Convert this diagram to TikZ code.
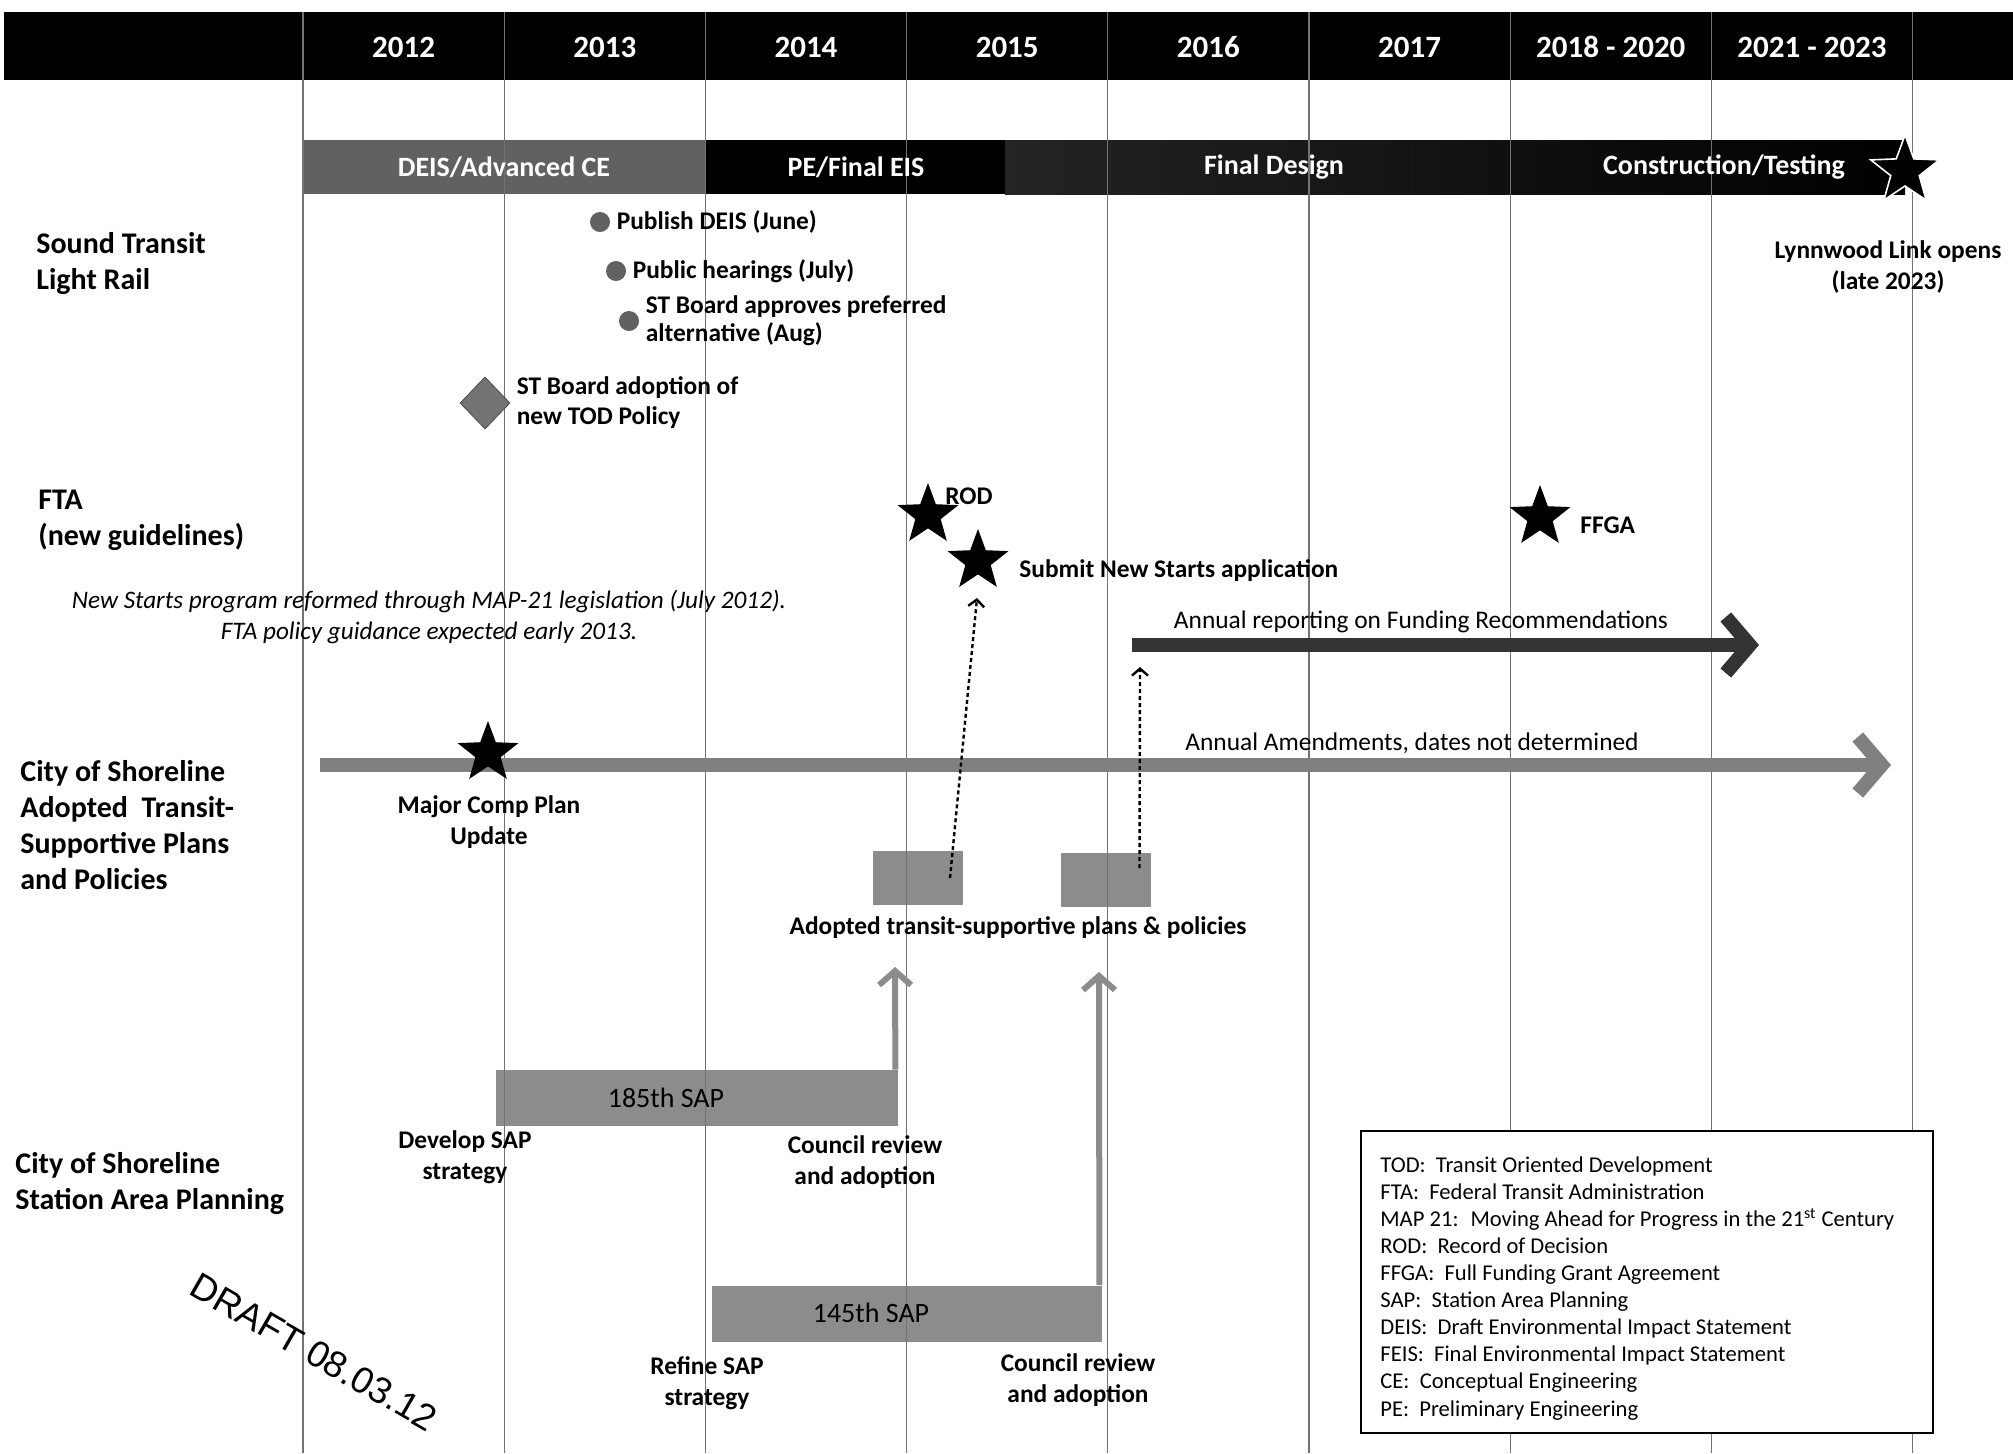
\documentclass[tikz,border=0pt]{standalone}
\usepackage{fontspec}
\setmainfont{Carlito}
\newfontfamily\draftfont{Liberation Sans}
\usetikzlibrary{arrows.meta,shapes.geometric,positioning}

\begin{document}
\begin{tikzpicture}[x=0.5pt,y=-0.5pt,
    year/.style={text=white,font={\bfseries\fontsize{15.5}{18}\selectfont}},
    phase/.style={text=white,font={\bfseries\fontsize{14}{16}\selectfont}},
    rowlabel/.style={anchor=west,align=left,inner sep=0pt,font={\bfseries\fontsize{15}{18}\selectfont}},
    event/.style={anchor=west,align=left,inner sep=1pt,font={\bfseries\fontsize{12.7}{15}\selectfont}},
    note/.style={align=center,inner sep=1pt,font={\bfseries\fontsize{12.7}{15.5}\selectfont}},
    plain/.style={font={\fontsize{12.7}{15}\selectfont}},
    milestone/.style={star,star points=5,star point ratio=2.4,fill=black,inner sep=0pt,minimum size=32pt},
    dot/.style={circle,fill=black!62,inner sep=0pt,minimum size=10pt},
    gridline/.style={black!55,line width=0.6pt},
    sapbar/.style={fill=black!45,inner sep=0pt,minimum height=28pt},
    saptext/.style={font={\fontsize{14}{16}\selectfont}},
    policybox/.style={fill=black!45,inner sep=0pt,minimum width=45pt,minimum height=27pt},
    feed/.style={black!45,line width=3pt,-{Straight Barb[length=7pt,width=16pt]}},
    link/.style={line width=1.2pt,dash pattern=on 2pt off 1.5pt,-{Straight Barb[length=3.5pt,width=8pt]}},
    trend/.style={line width=7pt,-{Straight Barb[length=12pt,width=28pt]}}
  ]

  \useasboundingbox (0,0) rectangle (2013,1453);
  \fill[white] (0,0) rectangle (2013,1453);

  % header band and phases
  \fill[black] (4,12) rectangle (2013,80);
  \fill[black!62] (303,140) rectangle (705,194);
  \fill[black] (705,140) rectangle (1005,194);
  \shade[left color=black!86,right color=black] (1005,140) rectangle (1905,194);

  \node[sapbar,minimum width=201pt] (bar185) at (697,1098) {};
  \node[sapbar,minimum width=195pt] (bar145) at (907,1313.5) {};
  \node[policybox] (adopt1) at (918,878) {};
  \node[policybox] (adopt2) at (1105.5,880) {};

  \foreach \i in {0,...,8}
    \draw[gridline] (303+201.2*\i,12) -- (303+201.2*\i,1453);

  \foreach \yr [count=\i from 0] in {2012,2013,2014,2015,2016,2017,2018 - 2020,2021 - 2023}
    \node[year] (yr\i) at (403.6+201.2*\i,47) {\yr};

  \node[phase] (deis) at (504,167) {DEIS/Advanced CE};
  \node[phase] (pe) at (856,167) {PE/Final EIS};
  \node[phase] (fd) at (1274,167) {Final Design};
  \node[phase] (constr) at (1724,167) {Construction/Testing};

  \node[milestone,draw=white,line width=0.8pt,minimum size=36pt] (lynn) at (1905,171) {};
  \node[note] (lynnlbl) at (1888,267) {Lynnwood Link opens\\(late 2023)};

  % row titles
  \node[rowlabel] (st) at (36,264) {Sound Transit\\Light Rail};
  \node[rowlabel] (fta) at (38,520) {FTA\\(new guidelines)};
  \node[rowlabel] (cityplans) at (20,825) {City of Shoreline\\Adopted~ Transit-\\Supportive Plans\\and Policies};
  \node[rowlabel] (citysap) at (15,1183) {City of Shoreline\\Station Area Planning};

  % sound transit
  \node[dot] (d1) at (600,222) {};
  \node[event] (d1lbl) [right=2pt of d1] {Publish DEIS (June)};
  \node[dot] (d2) at (616,271) {};
  \node[event] (d2lbl) [right=2pt of d2] {Public hearings (July)};
  \node[dot] (d3) at (629,321) {};
  \node[event,font={\bfseries\fontsize{12.7}{14}\selectfont}] (d3lbl) [right=2pt of d3] {ST Board approves preferred\\alternative (Aug)};
  \node[diamond,fill=black!55,draw=black!70,inner sep=0pt,minimum width=25pt,minimum height=26pt] (tod) at (485,403) {};
  \node[event] (todlbl) [right=2pt of tod] {ST Board adoption of\\new TOD Policy};

  % fta
  \node[milestone] (rod) at (928,515) {};
  \node[event] (rodlbl) at (943,496) {ROD};
  \node[milestone] (nsa) at (978,561) {};
  \node[event] (nsalbl) at (1017,571) {Submit New Starts application};
  \node[milestone] (ffga) at (1540,517) {};
  \node[event] (ffgalbl) at (1578,525) {FFGA};
  \node[align=center,font={\itshape\fontsize{12.6}{15.5}\selectfont}] (map21) at (429,617) {New Starts program reformed through MAP-21 legislation (July 2012).\\FTA policy guidance expected early 2013.};

  \coordinate (rep0) at (1132,645);
  \coordinate (rep1) at (1759,645);
  \draw[trend,black!80] (rep0) -- (rep1);
  \node[plain] (replbl) at (1421,622) {Annual reporting on Funding Recommendations};

  % city plans
  \coordinate (amd0) at (320,765);
  \coordinate (amd1) at (1891,765);
  \draw[trend,black!50] (amd0) -- (amd1);
  \node[plain] (amdlbl) at (1412,743) {Annual Amendments, dates not determined};

  \node[milestone] (comp) at (488,753) {};
  \node[note] (complbl) at (489,822) {Major Comp Plan\\Update};
  \node[note] (adoptlbl) at (1018,928) {Adopted transit-supportive plans \& policies};

  \draw[link] ([xshift=16pt]adopt1.center) -- ([xshift=-0.5pt,yshift=-18.5pt]nsa.center);
  \draw[link] ([xshift=17pt,yshift=6pt]adopt2.center) -- ([xshift=4pt,yshift=-11pt]rep0);

  % station area planning
  \coordinate (feed1) at (895,967);
  \coordinate (feed2) at (1099,972);
  \draw[feed] ([xshift=-1.5pt]bar185.north east) -- (feed1);
  \draw[feed] ([xshift=-1.5pt]bar145.north east) -- (feed2);

  \node[saptext] (lbl185) at (666,1098) {185th SAP};
  \node[saptext] (lbl145) at (871,1313) {145th SAP};
  \node[note] (dev) at (465,1157) {Develop SAP\\strategy};
  \node[note] (cr1) at (865,1162) {Council review\\and adoption};
  \node[note] (refine) at (707,1383) {Refine SAP\\strategy};
  \node[note] (cr2) at (1078,1380) {Council review\\and adoption};

  \node[rotate=-30,font={\draftfont\fontsize{18.5}{20}\selectfont}] (draft) at (314,1352) {DRAFT 08.03.12};

  % legend
  \node[draw=black,line width=0.6pt,fill=white,minimum width=286pt,minimum height=151pt] (legendbox) at (1647,1282) {};
  \node[anchor=north west,align=left,inner sep=0pt,font={\fontsize{11.3}{13.55}\selectfont}] (legend) at (1380,1156)
    {TOD:~ Transit Oriented Development\\
     FTA:~ Federal Transit Administration\\
     MAP 21:~ Moving Ahead for Progress in the 21\textsuperscript{st} Century\\
     ROD:~ Record of Decision\\
     FFGA:~ Full Funding Grant Agreement\\
     SAP:~ Station Area Planning\\
     DEIS:~ Draft Environmental Impact Statement\\
     FEIS:~ Final Environmental Impact Statement\\
     CE:~ Conceptual Engineering\\
     PE:~ Preliminary Engineering};
\end{tikzpicture}
\end{document}
